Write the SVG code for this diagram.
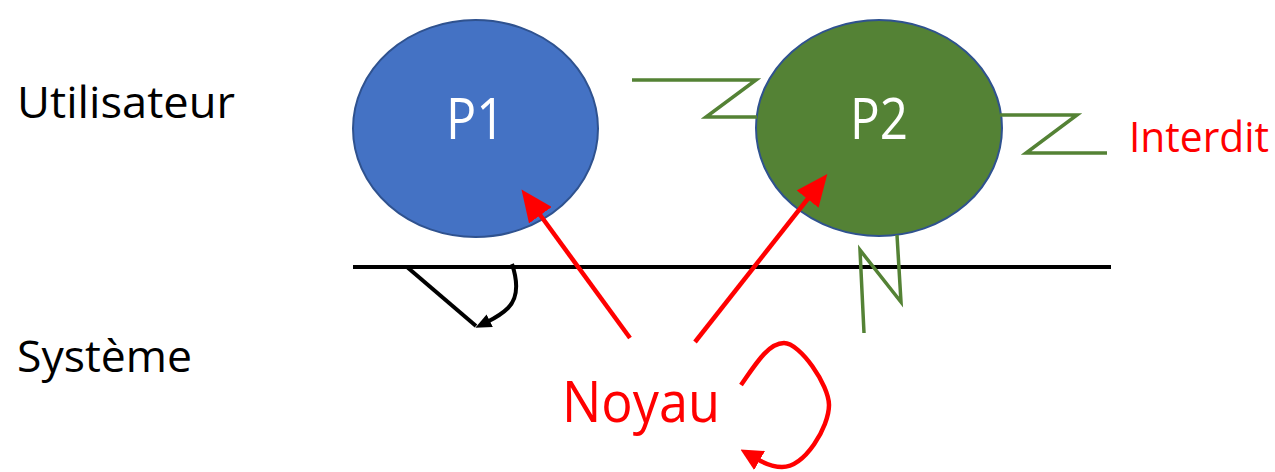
<svg xmlns="http://www.w3.org/2000/svg" width="1275" height="472" viewBox="0 0 1275 472">
  <style>
    .lbl { font-family: "Open Sans", Lato, "Liberation Sans", sans-serif; }
    .proc { stroke: #2F528F; stroke-width: 2; }
    .zig { fill: none; stroke: #548235; stroke-width: 3.5; stroke-linejoin: miter; }
    .red { fill: none; stroke: #FF0000; stroke-width: 4.5; }
    .blk { fill: none; stroke: #000000; stroke-width: 4; }
  </style>
  <defs>
    <marker id="redHead" markerUnits="userSpaceOnUse" markerWidth="32" markerHeight="28" refX="4" refY="14" orient="auto">
      <path d="M0,0 L32,14 L0,28 Z" fill="#FF0000"/>
    </marker>
    <marker id="redHeadSmall" markerUnits="userSpaceOnUse" markerWidth="22" markerHeight="22" refX="3" refY="11" orient="auto">
      <path d="M0,0 L22,11 L0,22 Z" fill="#FF0000"/>
    </marker>
    <marker id="blkHead" markerUnits="userSpaceOnUse" markerWidth="16" markerHeight="14" refX="3" refY="7" orient="auto">
      <path d="M0,0 L16,7 L0,14 Z" fill="#000000"/>
    </marker>
  </defs>

  <rect width="1275" height="472" fill="#FFFFFF"/>

  <!-- layer labels -->
  <g id="label-utilisateur">
    <text class="lbl" x="17" y="118" font-size="43" fill="#000000" textLength="218" lengthAdjust="spacingAndGlyphs">Utilisateur</text>
  </g>
  <g id="label-systeme">
    <text class="lbl" x="17" y="372" font-size="43" fill="#000000" textLength="175" lengthAdjust="spacingAndGlyphs">Système</text>
  </g>

  <!-- user / kernel boundary -->
  <g id="boundary">
    <line x1="353" y1="267" x2="1111" y2="267" stroke="#000000" stroke-width="4"/>
  </g>

  <!-- processes -->
  <g id="node-p1">
    <ellipse class="proc" cx="475.5" cy="128.5" rx="122.5" ry="108.5" fill="#4472C4"/>
    <text class="lbl" x="446" y="139" font-size="57" fill="#FFFFFF" textLength="59" lengthAdjust="spacingAndGlyphs">P1</text>
  </g>
  <g id="node-p2">
    <ellipse class="proc" cx="879" cy="128" rx="123" ry="108" fill="#548235"/>
    <text class="lbl" x="850" y="139" font-size="57" fill="#FFFFFF" textLength="58" lengthAdjust="spacingAndGlyphs">P2</text>
  </g>

  <g id="node-noyau">
    <text class="lbl" x="562" y="422" font-size="56" fill="#FF0000" textLength="158" lengthAdjust="spacingAndGlyphs">Noyau</text>
  </g>
  <g id="node-interdit">
    <text class="lbl" x="1129" y="152" font-size="42" fill="#FF0000" textLength="140" lengthAdjust="spacingAndGlyphs">Interdit</text>
  </g>

  <g id="connectors">
    <!-- forbidden access from P2 (lightning zigzags) -->
    <path class="zig" d="M632,80 L756,80 L706,117 L757,117"/>
    <path class="zig" d="M1000,115 L1077,115 L1026,153 L1107,153"/>
    <path class="zig" d="M897,235 L901,302 L860,250 L864,333"/>

    <!-- system call from P1 side -->
    <path class="blk" d="M407,267 L476,326"/>
    <path class="blk" d="M512,264 C518,282 518,298 508,308 C502,314 495,318 487,322" marker-end="url(#blkHead)"/>

    <!-- kernel to processes -->
    <path class="red" d="M630,338 L538,212" marker-end="url(#redHead)"/>
    <path class="red" d="M695,342 L810,196" marker-end="url(#redHead)"/>

    <!-- kernel self loop -->
    <path class="red" d="M741,385 C755,365 768,343 784,343 C800,343 829,385 829,405 C829,427 805,467 782,467 C772,467 764,463 757,459" marker-end="url(#redHeadSmall)"/>
  </g>
</svg>
